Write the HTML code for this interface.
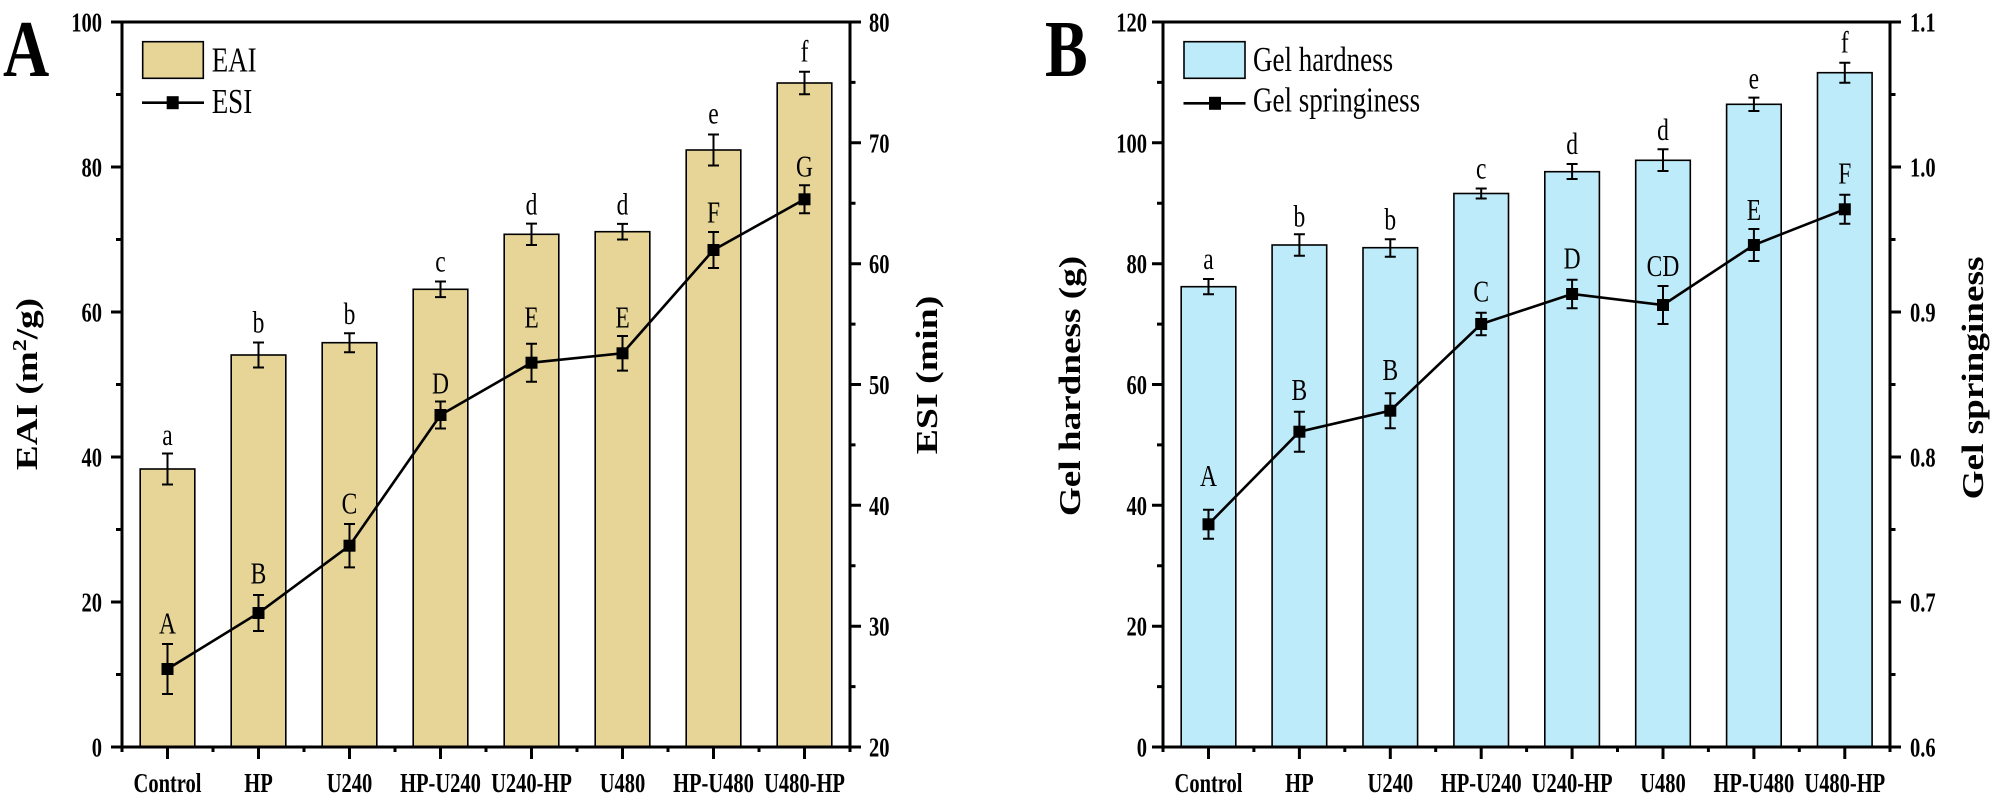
<!DOCTYPE html>
<html>
<head>
<meta charset="utf-8">
<style>
  html,body{margin:0;padding:0;background:#fff;}
  svg{display:block;}
  .tk{font-family:"Liberation Serif",serif;font-weight:bold;font-size:20.5px;fill:#000;}
  .cat{font-family:"Liberation Serif",serif;font-weight:bold;font-size:20.5px;fill:#000;text-anchor:middle;}
  .lt{font-family:"Liberation Serif",serif;font-size:23.5px;fill:#000;text-anchor:middle;}
  .lg{font-family:"Liberation Serif",serif;font-size:27px;fill:#000;}
  .ttl{font-family:"Liberation Serif",serif;font-weight:bold;font-size:31px;fill:#000;text-anchor:middle;}
  .pn{font-family:"Liberation Serif",serif;font-weight:bold;font-size:64px;fill:#000;}
</style>
</head>
<body>
<svg width="2000" height="803" viewBox="0 0 2000 803" xmlns="http://www.w3.org/2000/svg">
<rect width="2000" height="803" fill="#fff"/>

<!-- ================= PANEL A ================= -->
<g stroke="#000" stroke-width="1.6" fill="#E7D597">
  <rect x="140.2" y="469" width="54.6" height="278"/>
  <rect x="231.2" y="355" width="54.6" height="392"/>
  <rect x="322.2" y="342.7" width="54.6" height="404.3"/>
  <rect x="413.2" y="289.3" width="54.6" height="457.7"/>
  <rect x="504.2" y="234.3" width="54.6" height="512.7"/>
  <rect x="595.2" y="231.7" width="54.6" height="515.3"/>
  <rect x="686.2" y="150" width="54.6" height="597"/>
  <rect x="777.2" y="83" width="54.6" height="664"/>
</g>
<path stroke="#000" stroke-width="2" fill="none" d="
M167.5,453.5V484.5M162,453.5h11M162,484.5h11
M258.5,342.5V367.5M253,342.5h11M253,367.5h11
M349.5,333.2V352.2M344,333.2h11M344,352.2h11
M440.5,281.5V297.1M435,281.5h11M435,297.1h11
M531.5,223.6V245M526,223.6h11M526,245h11
M622.5,223.9V239.5M617,223.9h11M617,239.5h11
M713.5,134.5V165.5M708,134.5h11M708,165.5h11
M804.5,71.7V94.3M799,71.7h11M799,94.3h11"/>
<polyline fill="none" stroke="#000" stroke-width="2.6" points="167.5,669 258.5,613 349.5,545.7 440.5,415 531.5,362.7 622.5,353.3 713.5,250 804.5,199.3"/>
<path stroke="#000" stroke-width="2" fill="none" d="
M167.5,644V694M162,644h11M162,694h11
M258.5,595V631M253,595h11M253,631h11
M349.5,524V567.4M344,524h11M344,567.4h11
M440.5,401.5V428.5M435,401.5h11M435,428.5h11
M531.5,343.7V381.7M526,343.7h11M526,381.7h11
M622.5,336V370.6M617,336h11M617,370.6h11
M713.5,232V268M708,232h11M708,268h11
M804.5,185.3V213.3M799,185.3h11M799,213.3h11"/>
<g fill="#000">
  <rect x="161.5" y="663" width="12" height="12"/>
  <rect x="252.5" y="607" width="12" height="12"/>
  <rect x="343.5" y="539.7" width="12" height="12"/>
  <rect x="434.5" y="409" width="12" height="12"/>
  <rect x="525.5" y="356.7" width="12" height="12"/>
  <rect x="616.5" y="347.3" width="12" height="12"/>
  <rect x="707.5" y="244" width="12" height="12"/>
  <rect x="798.5" y="193.3" width="12" height="12"/>
</g>
<text class="lt" transform="translate(167.5,445) scale(1,1.3)">a</text>
<text class="lt" transform="translate(258.5,332.7) scale(1,1.3)">b</text>
<text class="lt" transform="translate(349.5,324) scale(1,1.3)">b</text>
<text class="lt" transform="translate(440.5,271.7) scale(1,1.3)">c</text>
<text class="lt" transform="translate(531.5,214.3) scale(1,1.3)">d</text>
<text class="lt" transform="translate(622.5,214.3) scale(1,1.3)">d</text>
<text class="lt" transform="translate(713.5,123.3) scale(1,1.3)">e</text>
<text class="lt" transform="translate(804.5,61.7) scale(1,1.3)">f</text>
<text class="lt" transform="translate(167.5,633.3) scale(1,1.3)">A</text>
<text class="lt" transform="translate(258.5,583.3) scale(1,1.3)">B</text>
<text class="lt" transform="translate(349.5,513.3) scale(1,1.3)">C</text>
<text class="lt" transform="translate(440.5,393.3) scale(1,1.3)">D</text>
<text class="lt" transform="translate(531.5,327.7) scale(1,1.3)">E</text>
<text class="lt" transform="translate(622.5,327.7) scale(1,1.3)">E</text>
<text class="lt" transform="translate(713.5,222.3) scale(1,1.3)">F</text>
<text class="lt" transform="translate(804.5,176.7) scale(1,1.3)">G</text>

<rect x="122" y="22" width="728" height="725" fill="none" stroke="#000" stroke-width="3"/>
<path stroke="#000" stroke-width="3" fill="none" d="
M111,747H122M111,602H122M111,457H122M111,312H122M111,167H122M111,22H122
M116,674.5H122M116,529.5H122M116,384.5H122M116,239.5H122M116,94.5H122
M850,747H861M850,626.2H861M850,505.3H861M850,384.5H861M850,263.7H861M850,142.8H861M850,22H861
M850,686.6H855.5M850,565.8H855.5M850,444.9H855.5M850,324.1H855.5M850,203.3H855.5M850,82.4H855.5
M167.5,747V759M258.5,747V759M349.5,747V759M440.5,747V759M531.5,747V759M622.5,747V759M713.5,747V759M804.5,747V759
M122,747V752M213,747V752M304,747V752M395,747V752M486,747V752M577,747V752M668,747V752M759,747V752M850,747V752"/>
<g class="tk" text-anchor="end">
  <text transform="translate(102,756.5) scale(1,1.33)">0</text>
  <text transform="translate(102,611.5) scale(1,1.33)">20</text>
  <text transform="translate(102,466.5) scale(1,1.33)">40</text>
  <text transform="translate(102,321.5) scale(1,1.33)">60</text>
  <text transform="translate(102,176.5) scale(1,1.33)">80</text>
  <text transform="translate(102,31.5) scale(1,1.33)">100</text>
</g>
<g class="tk">
  <text transform="translate(869,756.5) scale(1,1.33)">20</text>
  <text transform="translate(869,635.7) scale(1,1.33)">30</text>
  <text transform="translate(869,514.8) scale(1,1.33)">40</text>
  <text transform="translate(869,394) scale(1,1.33)">50</text>
  <text transform="translate(869,273.2) scale(1,1.33)">60</text>
  <text transform="translate(869,152.3) scale(1,1.33)">70</text>
  <text transform="translate(869,31.5) scale(1,1.33)">80</text>
</g>
<g class="cat">
  <text transform="translate(167.5,792) scale(1,1.33)">Control</text>
  <text transform="translate(258.5,792) scale(1,1.33)">HP</text>
  <text transform="translate(349.5,792) scale(1,1.33)">U240</text>
  <text transform="translate(440.5,792) scale(1,1.33)">HP-U240</text>
  <text transform="translate(531.5,792) scale(1,1.33)">U240-HP</text>
  <text transform="translate(622.5,792) scale(1,1.33)">U480</text>
  <text transform="translate(713.5,792) scale(1,1.33)">HP-U480</text>
  <text transform="translate(804.5,792) scale(1,1.33)">U480-HP</text>
</g>
<text class="ttl" transform="translate(37,384) rotate(-90) scale(1.2,1)">EAI (m<tspan dy="-11" font-size="20">2</tspan><tspan dy="11">/g)</tspan></text>
<text class="ttl" transform="translate(937,375) rotate(-90) scale(1.22,1)">ESI (min)</text>
<rect x="142.7" y="41.7" width="60.6" height="36.6" fill="#E7D597" stroke="#000" stroke-width="1.6"/>
<path d="M142,102.7H204" stroke="#000" stroke-width="2.6"/>
<rect x="166.7" y="96.2" width="12" height="13" fill="#000"/>
<text class="lg" transform="translate(211.7,71.7) scale(1,1.3)">EAI</text>
<text class="lg" transform="translate(211.7,113) scale(1,1.3)">ESI</text>
<text class="pn" transform="translate(3,76) scale(1,1.26)">A</text>

<!-- ================= PANEL B ================= -->
<g stroke="#000" stroke-width="1.6" fill="#BEEBFA">
  <rect x="1181.2" y="286.7" width="54.6" height="460.3"/>
  <rect x="1272.1" y="245" width="54.6" height="502"/>
  <rect x="1363" y="247.7" width="54.6" height="499.3"/>
  <rect x="1453.9" y="193.5" width="54.6" height="553.5"/>
  <rect x="1544.8" y="171.7" width="54.6" height="575.3"/>
  <rect x="1635.7" y="160.3" width="54.6" height="586.7"/>
  <rect x="1726.6" y="104.3" width="54.6" height="642.7"/>
  <rect x="1817.5" y="72.7" width="54.6" height="674.3"/>
</g>
<path stroke="#000" stroke-width="2" fill="none" d="
M1208.5,279V294.3M1203,279h11M1203,294.3h11
M1299.4,234.3V255.7M1293.9,234.3h11M1293.9,255.7h11
M1390.3,239.3V256.7M1384.8,239.3h11M1384.8,256.7h11
M1481.2,188.5V198.5M1475.7,188.5h11M1475.7,198.5h11
M1572.1,164V179M1566.6,164h11M1566.6,179h11
M1663,149.3V171M1657.5,149.3h11M1657.5,171h11
M1753.9,97.6V111M1748.4,97.6h11M1748.4,111h11
M1844.8,62.7V82.7M1839.3,62.7h11M1839.3,82.7h11"/>
<polyline fill="none" stroke="#000" stroke-width="2.6" points="1208.5,524.3 1299.4,431.7 1390.3,410.7 1481.2,324 1572.1,294 1663,305 1753.9,245 1844.8,209.3"/>
<path stroke="#000" stroke-width="2" fill="none" d="
M1208.5,509.8V538.8M1203,509.8h11M1203,538.8h11
M1299.4,411.7V451.7M1293.9,411.7h11M1293.9,451.7h11
M1390.3,393.2V428.2M1384.8,393.2h11M1384.8,428.2h11
M1481.2,312.7V335.3M1475.7,312.7h11M1475.7,335.3h11
M1572.1,279.8V308.2M1566.6,279.8h11M1566.6,308.2h11
M1663,286V324M1657.5,286h11M1657.5,324h11
M1753.9,229V261M1748.4,229h11M1748.4,261h11
M1844.8,194.8V223.8M1839.3,194.8h11M1839.3,223.8h11"/>
<g fill="#000">
  <rect x="1202.5" y="518.3" width="12" height="12"/>
  <rect x="1293.4" y="425.7" width="12" height="12"/>
  <rect x="1384.3" y="404.7" width="12" height="12"/>
  <rect x="1475.2" y="318" width="12" height="12"/>
  <rect x="1566.1" y="288" width="12" height="12"/>
  <rect x="1657" y="299" width="12" height="12"/>
  <rect x="1747.9" y="239" width="12" height="12"/>
  <rect x="1838.8" y="203.3" width="12" height="12"/>
</g>
<text class="lt" transform="translate(1208.5,269) scale(1,1.3)">a</text>
<text class="lt" transform="translate(1299.4,226.7) scale(1,1.3)">b</text>
<text class="lt" transform="translate(1390.3,229.3) scale(1,1.3)">b</text>
<text class="lt" transform="translate(1481.2,178.5) scale(1,1.3)">c</text>
<text class="lt" transform="translate(1572.1,154) scale(1,1.3)">d</text>
<text class="lt" transform="translate(1663,140) scale(1,1.3)">d</text>
<text class="lt" transform="translate(1753.9,88.3) scale(1,1.3)">e</text>
<text class="lt" transform="translate(1844.8,52.7) scale(1,1.3)">f</text>
<text class="lt" transform="translate(1208.5,486) scale(1,1.3)">A</text>
<text class="lt" transform="translate(1299.4,400) scale(1,1.3)">B</text>
<text class="lt" transform="translate(1390.3,380) scale(1,1.3)">B</text>
<text class="lt" transform="translate(1481.2,301.7) scale(1,1.3)">C</text>
<text class="lt" transform="translate(1572.1,268.3) scale(1,1.3)">D</text>
<text class="lt" transform="translate(1663,276) scale(1,1.3)">CD</text>
<text class="lt" transform="translate(1753.9,220) scale(1,1.3)">E</text>
<text class="lt" transform="translate(1844.8,183.3) scale(1,1.3)">F</text>

<rect x="1163" y="22" width="727" height="725" fill="none" stroke="#000" stroke-width="3"/>
<path stroke="#000" stroke-width="3" fill="none" d="
M1152,747H1163M1152,626.2H1163M1152,505.3H1163M1152,384.5H1163M1152,263.7H1163M1152,142.8H1163M1152,22H1163
M1157,686.6H1163M1157,565.8H1163M1157,444.9H1163M1157,324.1H1163M1157,203.3H1163M1157,82.4H1163
M1890,747H1901M1890,602H1901M1890,457H1901M1890,312H1901M1890,167H1901M1890,22H1901
M1890,674.5H1895.5M1890,529.5H1895.5M1890,384.5H1895.5M1890,239.5H1895.5M1890,94.5H1895.5
M1208.5,747V759M1299.4,747V759M1390.3,747V759M1481.2,747V759M1572.1,747V759M1663,747V759M1753.9,747V759M1844.8,747V759
M1163,747V752M1253.9,747V752M1344.8,747V752M1435.7,747V752M1526.6,747V752M1617.5,747V752M1708.4,747V752M1799.3,747V752M1890,747V752"/>
<g class="tk" text-anchor="end">
  <text transform="translate(1147,756.5) scale(1,1.33)">0</text>
  <text transform="translate(1147,635.7) scale(1,1.33)">20</text>
  <text transform="translate(1147,514.8) scale(1,1.33)">40</text>
  <text transform="translate(1147,394) scale(1,1.33)">60</text>
  <text transform="translate(1147,273.2) scale(1,1.33)">80</text>
  <text transform="translate(1147,152.3) scale(1,1.33)">100</text>
  <text transform="translate(1147,31.5) scale(1,1.33)">120</text>
</g>
<g class="tk">
  <text transform="translate(1910,756.5) scale(1,1.33)">0.6</text>
  <text transform="translate(1910,611.5) scale(1,1.33)">0.7</text>
  <text transform="translate(1910,466.5) scale(1,1.33)">0.8</text>
  <text transform="translate(1910,321.5) scale(1,1.33)">0.9</text>
  <text transform="translate(1910,176.5) scale(1,1.33)">1.0</text>
  <text transform="translate(1910,31.5) scale(1,1.33)">1.1</text>
</g>
<g class="cat">
  <text transform="translate(1208.5,792) scale(1,1.33)">Control</text>
  <text transform="translate(1299.4,792) scale(1,1.33)">HP</text>
  <text transform="translate(1390.3,792) scale(1,1.33)">U240</text>
  <text transform="translate(1481.2,792) scale(1,1.33)">HP-U240</text>
  <text transform="translate(1572.1,792) scale(1,1.33)">U240-HP</text>
  <text transform="translate(1663,792) scale(1,1.33)">U480</text>
  <text transform="translate(1753.9,792) scale(1,1.33)">HP-U480</text>
  <text transform="translate(1844.8,792) scale(1,1.33)">U480-HP</text>
</g>
<text class="ttl" transform="translate(1080,386) rotate(-90) scale(1.2,1)">Gel hardness (g)</text>
<text class="ttl" transform="translate(1983,378) rotate(-90) scale(1.2,1)">Gel springiness</text>
<rect x="1184" y="41.7" width="61" height="36.6" fill="#BEEBFA" stroke="#000" stroke-width="1.6"/>
<path d="M1183.5,103.3H1245.5" stroke="#000" stroke-width="2.6"/>
<rect x="1209" y="96.8" width="12" height="13" fill="#000"/>
<text class="lg" transform="translate(1253,71) scale(1,1.3)">Gel hardness</text>
<text class="lg" transform="translate(1253,111.7) scale(1,1.3)">Gel springiness</text>
<text class="pn" transform="translate(1045,76) scale(1,1.26)">B</text>
</svg>
</body>
</html>
